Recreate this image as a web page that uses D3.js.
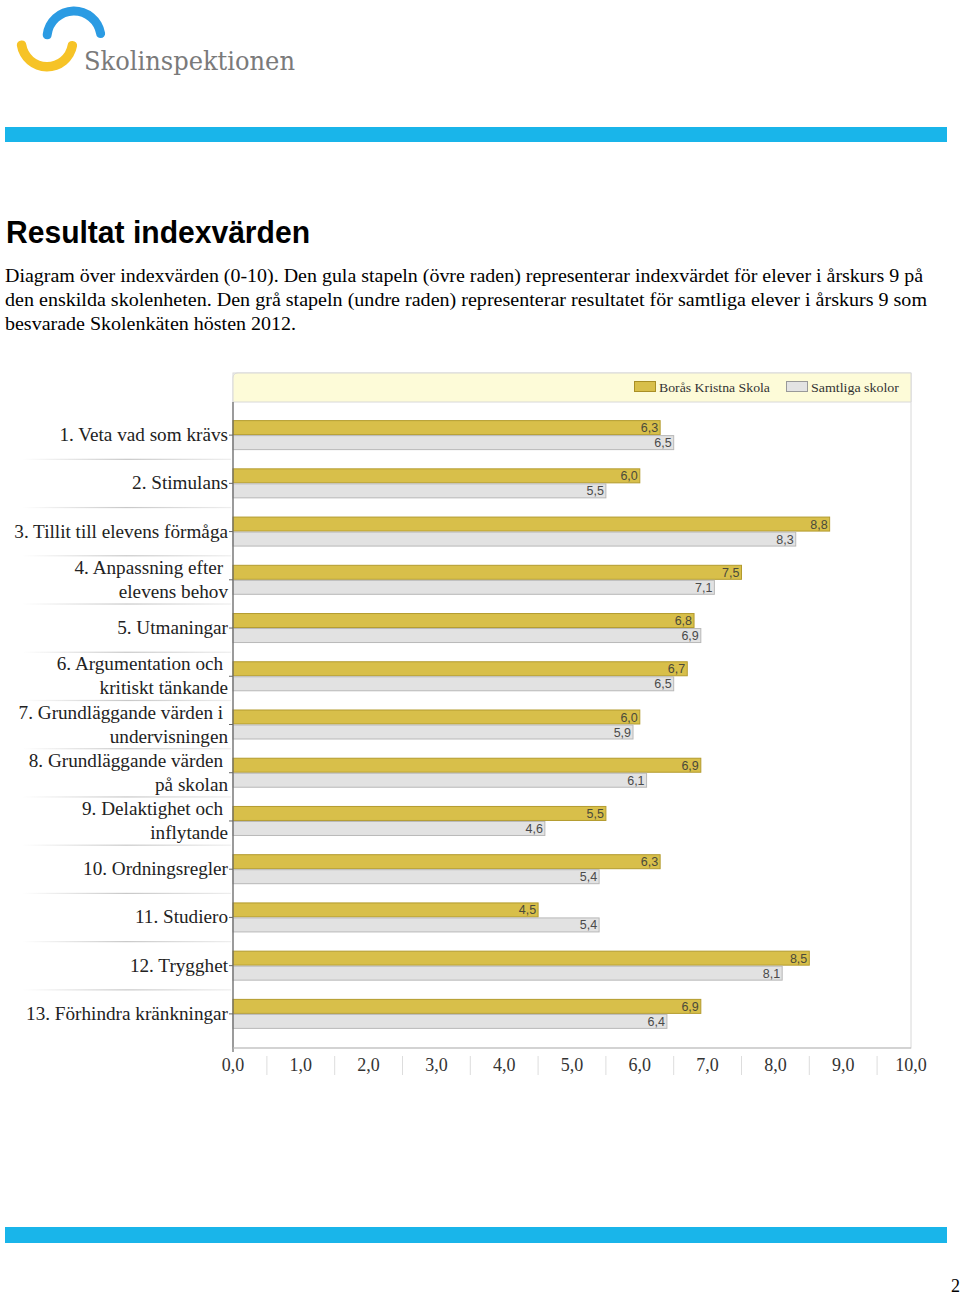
<!DOCTYPE html>
<html><head><meta charset="utf-8">
<script src="https://cdn.jsdelivr.net/npm/d3@7"></script>
<style>html,body{margin:0;padding:0;background:#fff;}svg{display:block;}</style>
</head><body>
<script>
const categories = [
  ["1. Veta vad som krävs"],
  ["2. Stimulans"],
  ["3. Tillit till elevens förmåga"],
  ["4. Anpassning efter ", "elevens behov"],
  ["5. Utmaningar"],
  ["6. Argumentation och ", "kritiskt tänkande"],
  ["7. Grundläggande värden i ", "undervisningen"],
  ["8. Grundläggande värden ", "på skolan"],
  ["9. Delaktighet och ", "inflytande"],
  ["10. Ordningsregler"],
  ["11. Studiero"],
  ["12. Trygghet"],
  ["13. Förhindra kränkningar"]
];
const schoolValues = [6.3, 6.0, 8.8, 7.5, 6.8, 6.7, 6.0, 6.9, 5.5, 6.3, 4.5, 8.5, 6.9];
const allValues    = [6.5, 5.5, 8.3, 7.1, 6.9, 6.5, 5.9, 6.1, 4.6, 5.4, 5.4, 8.1, 6.4];
const seriesNames = ["Borås Kristna Skola", "Samtliga skolor"];
const xTicks = [0,1,2,3,4,5,6,7,8,9,10];
const paragraph = [
  "Diagram över indexvärden (0-10). Den gula stapeln (övre raden) representerar indexvärdet för elever i årskurs 9 på",
  "den enskilda skolenheten. Den grå stapeln (undre raden) representerar resultatet för samtliga elever i årskurs 9 som",
  "besvarade Skolenkäten hösten 2012."
];

const W = 960, H = 1295;
const svg = d3.select("body").append("svg").attr("width", W).attr("height", H);
const defs = svg.append("defs");

// Logo
const logo = svg.append("g");
const arcB = d3.arc().innerRadius(22.5).outerRadius(31.5).startAngle(-Math.PI/2 - 0.05).endAngle(Math.PI/2).cornerRadius(4.5);
logo.append("path").attr("d", arcB).attr("transform", "translate(74,38)").attr("fill", "#2b9be3");
const arcY = d3.arc().innerRadius(21).outerRadius(30.5).startAngle(Math.PI/2).endAngle(3*Math.PI/2 + 0.02).cornerRadius(4.5);
logo.append("path").attr("d", arcY).attr("transform", "translate(47,41)").attr("fill", "#f6c327");
logo.append("text").attr("x", 84).attr("y", 70).attr("font-family", "DejaVu Serif").attr("font-size", 26)
  .attr("fill", "#7a7a7a").attr("textLength", 211).attr("lengthAdjust", "spacingAndGlyphs").text("Skolinspektionen");

// Blue bars
svg.append("rect").attr("x", 5).attr("y", 127).attr("width", 942).attr("height", 15).attr("fill", "#19b5ea");
svg.append("rect").attr("x", 5).attr("y", 1227).attr("width", 942).attr("height", 16).attr("fill", "#19b5ea");

// Title
svg.append("text").attr("x", 6).attr("y", 243).attr("font-family", "Liberation Sans, Arial").attr("font-weight", "bold")
  .attr("font-size", 31).attr("fill", "#000").attr("textLength", 304).attr("lengthAdjust", "spacingAndGlyphs").text("Resultat indexvärden");

// Paragraph
const paraW = [918, 922, 291];
paragraph.forEach((t, i) => {
  svg.append("text").attr("x", 5).attr("y", 282 + i*24).attr("font-family", "Liberation Serif, Times New Roman")
    .attr("font-size", 18).attr("fill", "#000").attr("textLength", paraW[i]).attr("lengthAdjust", "spacingAndGlyphs").text(t);
});

// Chart
const x0 = 233, x1 = 911;
const plotTop = 373, legendBottom = 402, plotBottom = 1048;
const x = d3.scaleLinear().domain([0, 10]).range([x0, x1]);
const y = d3.scaleBand().domain(d3.range(categories.length)).range([411, 1038]).paddingInner(0).paddingOuter(0);
const bh = 15;

// plot frame
svg.append("rect").attr("x", x0).attr("y", plotTop).attr("width", x1 - x0).attr("height", plotBottom - plotTop)
  .attr("fill", "#fff").attr("stroke", "#d8d8d8").attr("stroke-width", 1);
svg.append("path").attr("d", `M${x0},${legendBottom} V${plotTop+5} Q${x0},${plotTop} ${x0+5},${plotTop} H${x1} V${legendBottom} Z`)
  .attr("fill", "#fdfbd8").attr("stroke", "#d8d8d8");

// legend
const legColors = [["#d8bf4a", "#a98f25"], ["#e3e3e3", "#999"]];
const legX = [634, 786];
const legW = [111, 88];
seriesNames.forEach((n, i) => {
  svg.append("rect").attr("x", legX[i] + 0.5).attr("y", 381.5).attr("width", 21).attr("height", 10)
    .attr("fill", legColors[i][0]).attr("stroke", legColors[i][1]);
  svg.append("text").attr("x", legX[i] + 25).attr("y", 391.5).attr("font-family", "Liberation Serif, Times New Roman")
    .attr("font-size", 13.5).attr("fill", "#333").attr("textLength", legW[i]).attr("lengthAdjust", "spacingAndGlyphs").text(n);
});

// separators in label area
const sepGrad = defs.append("linearGradient").attr("id", "sep").attr("x1", "0").attr("x2", "1");
sepGrad.append("stop").attr("offset", "0").attr("stop-color", "#fff");
sepGrad.append("stop").attr("offset", "0.5").attr("stop-color", "#c8c8c8");
sepGrad.append("stop").attr("offset", "1").attr("stop-color", "#eee");
d3.range(1, categories.length).forEach(i => {
  svg.append("rect").attr("x", 22).attr("y", y(i) - 0.5).attr("width", 209).attr("height", 1.2).attr("fill", "url(#sep)");
});

// bars
const g = svg.append("g");
const fmt = v => v.toFixed(1).replace(".", ",");
categories.forEach((c, i) => {
  const cy = y(i) + y.bandwidth() / 2;
  g.append("rect").attr("x", x(0)).attr("y", cy - bh + 0.5).attr("width", x(schoolValues[i]) - x(0)).attr("height", bh - 1)
    .attr("fill", "#d8bf4a").attr("stroke", "#b39b2e").attr("stroke-width", 1);
  g.append("rect").attr("x", x(0)).attr("y", cy + 0.5).attr("width", x(allValues[i]) - x(0)).attr("height", bh - 1)
    .attr("fill", "#e2e2e2").attr("stroke", "#b8b8b8").attr("stroke-width", 1);
  g.append("text").attr("x", x(schoolValues[i]) - 2).attr("y", cy - 3).attr("text-anchor", "end")
    .attr("font-family", "Liberation Sans, Arial").attr("font-size", 12.5).attr("fill", "#4a4a3a").text(fmt(schoolValues[i]));
  g.append("text").attr("x", x(allValues[i]) - 2).attr("y", cy + 12).attr("text-anchor", "end")
    .attr("font-family", "Liberation Sans, Arial").attr("font-size", 12.5).attr("fill", "#4a4a4a").text(fmt(allValues[i]));
  // category labels
  const lab = svg.append("text").attr("text-anchor", "end").attr("font-family", "Liberation Serif, Times New Roman")
    .attr("font-size", 19.2).attr("fill", "#222");
  if (c.length === 1) {
    lab.append("tspan").attr("x", 228).attr("y", cy + 6).text(c[0]);
  } else {
    lab.append("tspan").attr("x", 228).attr("y", cy - 6).style("white-space", "pre").text(c[0]);
    lab.append("tspan").attr("x", 228).attr("y", cy + 18).text(c[1]);
  }
  svg.append("line").attr("x1", x0 - 4).attr("x2", x0).attr("y1", cy).attr("y2", cy).attr("stroke", "#666");
});

// left axis line
svg.append("line").attr("x1", x0).attr("x2", x0).attr("y1", legendBottom).attr("y2", plotBottom + 4).attr("stroke", "#666").attr("stroke-width", 1.2);
// bottom axis
svg.append("line").attr("x1", x0).attr("x2", x1).attr("y1", plotBottom).attr("y2", plotBottom).attr("stroke", "#bbb");
xTicks.forEach(t => {
  svg.append("text").attr("x", x(t)).attr("y", 1071).attr("text-anchor", "middle")
    .attr("font-family", "Liberation Serif, Times New Roman").attr("font-size", 18).attr("fill", "#333")
    .text(fmt(t));
  if (t < 10) svg.append("line").attr("x1", x(t + 0.5)).attr("x2", x(t + 0.5)).attr("y1", 1056).attr("y2", 1075)
    .attr("stroke", "#ddd");
});

// page number
svg.append("text").attr("x", 960).attr("y", 1292).attr("text-anchor", "end").attr("font-family", "Liberation Serif, Times New Roman")
  .attr("font-size", 18).attr("fill", "#000").text("2");
</script>
</body></html>
